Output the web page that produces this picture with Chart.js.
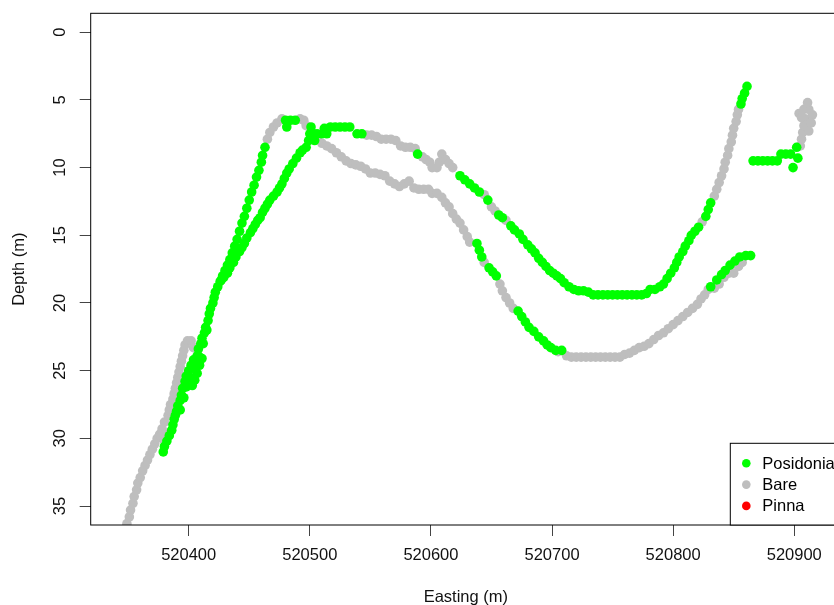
<!DOCTYPE html>
<html>
<head>
<meta charset="utf-8">
<script src="https://cdn.jsdelivr.net/npm/chart.js@4.4.1/dist/chart.umd.min.js"></script>
<style>
  html, body { margin: 0; padding: 0; background: #fff; overflow: hidden; }
  #wrap { width: 834px; height: 605px; overflow: hidden; position: relative; }
  #depthPlot { position: absolute; left: 0; top: 0; }
</style>
</head>
<body>
<div id="wrap"><canvas id="depthPlot" width="850" height="620"></canvas></div>
<script>
// legend / series
const classes = ['Posidonia', 'Bare', 'Pinna'];
const classColours = ['#00FF00', '#BEBEBE', '#FF0000'];

// axis ticks
const xTicks = [520400, 520500, 520600, 520700, 520800, 520900];
const yTicks = [0, 5, 10, 15, 20, 25, 30, 35];

// [easting, depth]
const posidonia = [
  [520379,31.0],[520380,30.6],[520382,30.2],[520384,29.8],[520386,29.4],[520387,29.0],[520388,28.6],[520389,28.3],
  [520390,28.0],[520391,27.6],[520393,27.2],[520394,26.8],[520395,26.3],[520397,25.8],[520398,25.4],[520400,25.0],
  [520402,24.6],[520404,24.2],[520407,23.9],[520408,23.4],[520410,23.0],[520411,22.6],[520413,22.2],[520414,21.8],
  [520416,21.3],[520417,20.8],[520418,20.4],[520420,20.0],
  [520393,27.9],[520396,27.0],[520398,26.2],[520401,25.5],[520405,24.8],[520409,24.0],[520412,23.0],[520415,22.0],
  [520403,26.1],[520405,25.7],[520407,25.2],[520409,24.6],[520411,24.1],
  [520421,19.6],[520422,19.2],[520424,18.8],[520426,18.4],[520428,18.0],[520430,17.6],[520432,17.2],[520434,16.8],
  [520436,16.3],[520438,15.8],[520440,15.3],[520442,14.7],[520444,14.1],[520446,13.6],[520448,13.0],[520450,12.4],
  [520452,11.8],[520454,11.3],[520456,10.7],[520458,10.2],[520460,9.6],[520461,9.1],[520463,8.5],
  [520480,6.5],[520484,6.5],[520488,6.5],[520481,7.0],[520501,7.0],
  [520500,7.5],[520499,8.0],[520497,8.5],[520494,8.7],[520492,8.9],[520489,9.3],[520486,9.7],[520483,10.1],
  [520481,10.4],[520479,10.8],[520477,11.2],[520475,11.5],[520473,11.8],[520470,12.1],[520467,12.4],[520465,12.7],
  [520463,13.0],[520461,13.3],[520459,13.7],[520457,13.9],[520455,14.2],[520453,14.5],[520451,14.8],[520448,15.2],
  [520446,15.6],[520444,15.9],[520442,16.2],[520439,16.6],[520437,17.0],[520434,17.4],[520432,17.8],[520429,18.1],
  [520427,18.3],
  [520503,7.5],[520506,7.5],[520510,7.5],[520514,7.5],[520504,8.0],[520512,7.1],[520517,7.0],[520521,7.0],
  [520525,7.0],[520529,7.0],[520533,7.0],[520539,7.5],[520543,7.5],
  [520589,9.0],[520624,10.6],[520628,10.9],[520632,11.2],[520636,11.5],[520640,11.8],[520647,12.4],[520656,13.5],
  [520659,13.7],[520666,14.3],[520669,14.6],[520673,14.9],[520676,15.3],[520680,15.7],[520683,16.0],[520686,16.3],
  [520689,16.7],[520692,17.0],[520695,17.3],[520698,17.6],[520701,17.8],[520704,18.0],[520707,18.2],[520710,18.5],
  [520714,18.8],[520718,19.0],[520722,19.1],[520726,19.1],[520730,19.2],[520734,19.4],[520738,19.4],[520742,19.4],
  [520746,19.4],[520750,19.4],[520754,19.4],[520758,19.4],[520762,19.4],[520766,19.4],[520770,19.4],[520774,19.4],
  [520778,19.3],[520781,19.0],[520785,19.0],[520789,18.8],[520792,18.6],[520795,18.2],[520798,17.8],[520801,17.4],
  [520803,17.0],[520805,16.6],[520808,16.2],[520810,15.8],[520813,15.4],[520815,15.0],[520818,14.7],[520821,14.4],
  [520827,13.6],[520829,13.1],[520831,12.6],
  [520856,5.3],[520857,4.9],[520859,4.5],[520861,4.0],
  [520638,15.6],[520640,16.1],[520642,16.6],[520648,17.4],[520651,17.7],[520654,18.0],
  [520672,20.6],[520675,21.0],[520678,21.4],[520681,21.8],[520685,22.1],[520689,22.5],[520693,22.8],[520696,23.1],
  [520699,23.3],[520703,23.5],[520708,23.5],
  [520831,18.8],[520836,18.3],[520840,17.9],[520843,17.6],[520847,17.2],[520851,16.9],[520855,16.6],[520860,16.5],
  [520864,16.5],
  [520866,9.5],[520870,9.5],[520874,9.5],[520878,9.5],[520882,9.5],[520886,9.5],[520889,9.0],[520893,9.0],
  [520897,9.0],[520902,8.5],[520903,9.3],[520899,10.0]
];

const bare = [
  [520347,36.7],[520349,36.3],[520351,35.8],[520352,35.3],[520354,34.8],[520355,34.3],[520357,33.8],[520358,33.3],
  [520360,32.9],[520362,32.4],[520364,32.0],[520366,31.6],[520368,31.2],[520370,30.8],[520372,30.4],[520374,30.0],
  [520376,29.7],[520377,29.9],[520378,29.3],[520380,28.8],[520381,29.6],[520380,30.2],
  [520383,28.3],[520384,27.9],[520385,27.5],[520387,27.1],[520388,26.7],[520389,26.3],[520390,25.9],[520391,25.5],
  [520392,25.1],[520393,24.7],[520394,24.3],[520395,23.9],[520396,23.5],[520397,23.1],[520399,22.8],[520402,22.8],
  [520404,23.3],[520403,24.9],
  [520465,7.9],[520467,7.4],[520470,7.0],[520473,6.7],[520477,6.4],[520492,6.4],[520495,6.5],[520497,6.9],
  [520547,7.6],[520551,7.6],[520555,7.7],[520559,7.9],[520563,7.9],[520567,7.9],[520571,8.0],[520575,8.4],
  [520579,8.5],[520583,8.5],[520587,8.6],[520593,9.2],[520596,9.4],[520599,9.6],[520601,10.0],[520605,10.0],
  [520607,9.6],[520609,9.0],[520612,9.4],[520615,9.7],[520618,10.0],
  [520644,12.0],[520650,12.9],[520653,13.2],[520662,13.9],[520824,14.0],
  [520834,12.1],[520836,11.6],[520838,11.1],[520840,10.6],[520842,10.1],[520843,9.6],[520845,9.1],[520846,8.6],
  [520848,8.1],[520849,7.6],[520850,7.1],[520852,6.6],[520853,6.1],[520854,5.7],
  [520506,7.9],[520510,8.2],[520514,8.4],[520518,8.6],[520522,8.9],[520526,9.2],[520530,9.5],[520534,9.7],
  [520538,9.8],[520542,9.9],[520546,10.1],[520550,10.4],[520554,10.4],[520558,10.5],[520562,10.6],[520566,11.0],
  [520570,11.2],[520574,11.4],[520578,11.2],[520582,11.0],[520586,11.5],[520590,11.6],[520594,11.6],[520598,11.6],
  [520601,11.9],[520605,11.9],[520609,12.2],[520612,12.6],[520615,12.9],[520618,13.4],[520621,13.8],[520624,14.1],
  [520627,14.6],[520630,15.1],[520632,15.5],
  [520644,17.0],[520657,18.6],[520659,19.1],[520662,19.6],[520665,20.0],[520668,20.4],
  [520705,23.6],[520712,23.9],[520716,24.0],[520720,24.0],[520724,24.0],[520728,24.0],[520732,24.0],[520736,24.0],
  [520740,24.0],[520744,24.0],[520748,24.0],[520752,24.0],[520756,24.0],[520760,23.8],[520764,23.7],[520768,23.5],
  [520772,23.3],[520776,23.2],[520780,23.0],[520784,22.7],[520788,22.4],[520792,22.2],[520796,21.9],[520800,21.6],
  [520804,21.3],[520808,21.0],[520812,20.7],[520816,20.4],[520820,20.1],[520823,19.7],[520826,19.4],[520829,19.0],
  [520834,18.9],[520838,18.6],[520842,18.1],[520846,17.8],[520850,17.8],[520854,17.3],[520857,17.0],
  [520905,8.4],[520906,7.9],[520907,7.4],[520908,6.9],[520909,6.4],[520904,6.0],[520908,5.7],[520912,5.7],
  [520915,6.1],[520911,5.2],[520906,6.3],[520914,6.7],[520912,7.3]
];

const pinna = [];

const FONT = "'Liberation Sans', Arial, sans-serif";
const toXY = pts => pts.map(p => ({ x: p[0], y: p[1] }));

// R puts no extra room round the axes for overhanging labels
const noLabelPadding = s => {
    s.paddingTop = 0; s.paddingBottom = 0; s.paddingLeft = 0; s.paddingRight = 0;
};

// box round the plot + R style legend in the bottom right corner
const boxAndLegend = {
    id: 'boxAndLegend',
    afterDraw(chart) {
        const { ctx, chartArea: a } = chart;
        ctx.save();
        ctx.strokeStyle = '#000';
        ctx.lineWidth = 1;
        ctx.strokeRect(a.left, a.top, a.right - a.left, a.bottom - a.top);

        const lx = a.right - 110.7, ly = a.bottom - 81.7;
        ctx.fillStyle = '#fff';
        ctx.fillRect(lx, ly, a.right - lx, a.bottom - ly);
        ctx.strokeRect(lx, ly, a.right - lx, a.bottom - ly);
        ctx.font = '16.5px ' + FONT;
        ctx.textBaseline = 'middle';
        chart.data.datasets.forEach((ds, i) => {
            const y = ly + 20 + i * 21.3;
            ctx.fillStyle = ds.backgroundColor;
            ctx.beginPath();
            ctx.arc(lx + 16, y, 4.3, 0, Math.PI * 2);
            ctx.fill();
            ctx.fillStyle = '#000';
            ctx.fillText(ds.label, lx + 32, y + 1);
        });
        ctx.restore();
    }
};

const ctx = document.getElementById('depthPlot').getContext('2d');
const depthPlot = new Chart(ctx, {
    type: 'scatter',
    data: {
        datasets: [
            { label: classes[0], data: toXY(posidonia), backgroundColor: classColours[0] },
            { label: classes[1], data: toXY(bare), backgroundColor: classColours[1] },
            { label: classes[2], data: toXY(pinna), backgroundColor: classColours[2] }
        ]
    },
    options: {
        responsive: false,
        animation: false,
        events: [],
        layout: { padding: { top: 13.3, right: 9, left: 0, bottom: 0 } },
        elements: {
            point: { radius: 4.8, borderWidth: 0, hoverRadius: 4.8 }
        },
        scales: {
            x: {
                type: 'linear',
                min: 520319.1,
                max: 520938.6,
                afterBuildTicks: s => { s.ticks = xTicks.map(v => ({ value: v })); },
                afterFit: s => { s.height = 95; noLabelPadding(s); },
                border: { display: false },
                grid: { drawOnChartArea: false, drawTicks: true, tickLength: 11, tickColor: '#444' },
                ticks: {
                    color: '#111', padding: 10, maxRotation: 0,
                    font: { family: FONT, size: 16.5 },
                    callback: v => String(v)
                },
                title: {
                    display: true, text: 'Easting (m)', color: '#111',
                    font: { family: FONT, size: 16.5 },
                    padding: { top: 0, bottom: 12.4 }
                }
            },
            y: {
                type: 'linear',
                reverse: true,
                min: -1.4,
                max: 36.4,
                afterBuildTicks: s => { s.ticks = yTicks.map(v => ({ value: v })); },
                afterFit: s => { s.width = 90.7; noLabelPadding(s); },
                border: { display: false },
                grid: { drawOnChartArea: false, drawTicks: true, tickLength: 11, tickColor: '#444' },
                ticks: {
                    color: '#111', padding: 10.5, minRotation: 90, maxRotation: 90, crossAlign: 'center',
                    font: { family: FONT, size: 16.5 },
                    callback: v => String(v)
                },
                title: {
                    display: true, text: 'Depth (m)', color: '#111',
                    font: { family: FONT, size: 16.5 },
                    padding: { top: 10, bottom: 0 }
                }
            }
        },
        plugins: {
            legend: { display: false },
            tooltip: { enabled: false }
        }
    },
    plugins: [boxAndLegend]
});
</script>
</body>
</html>
